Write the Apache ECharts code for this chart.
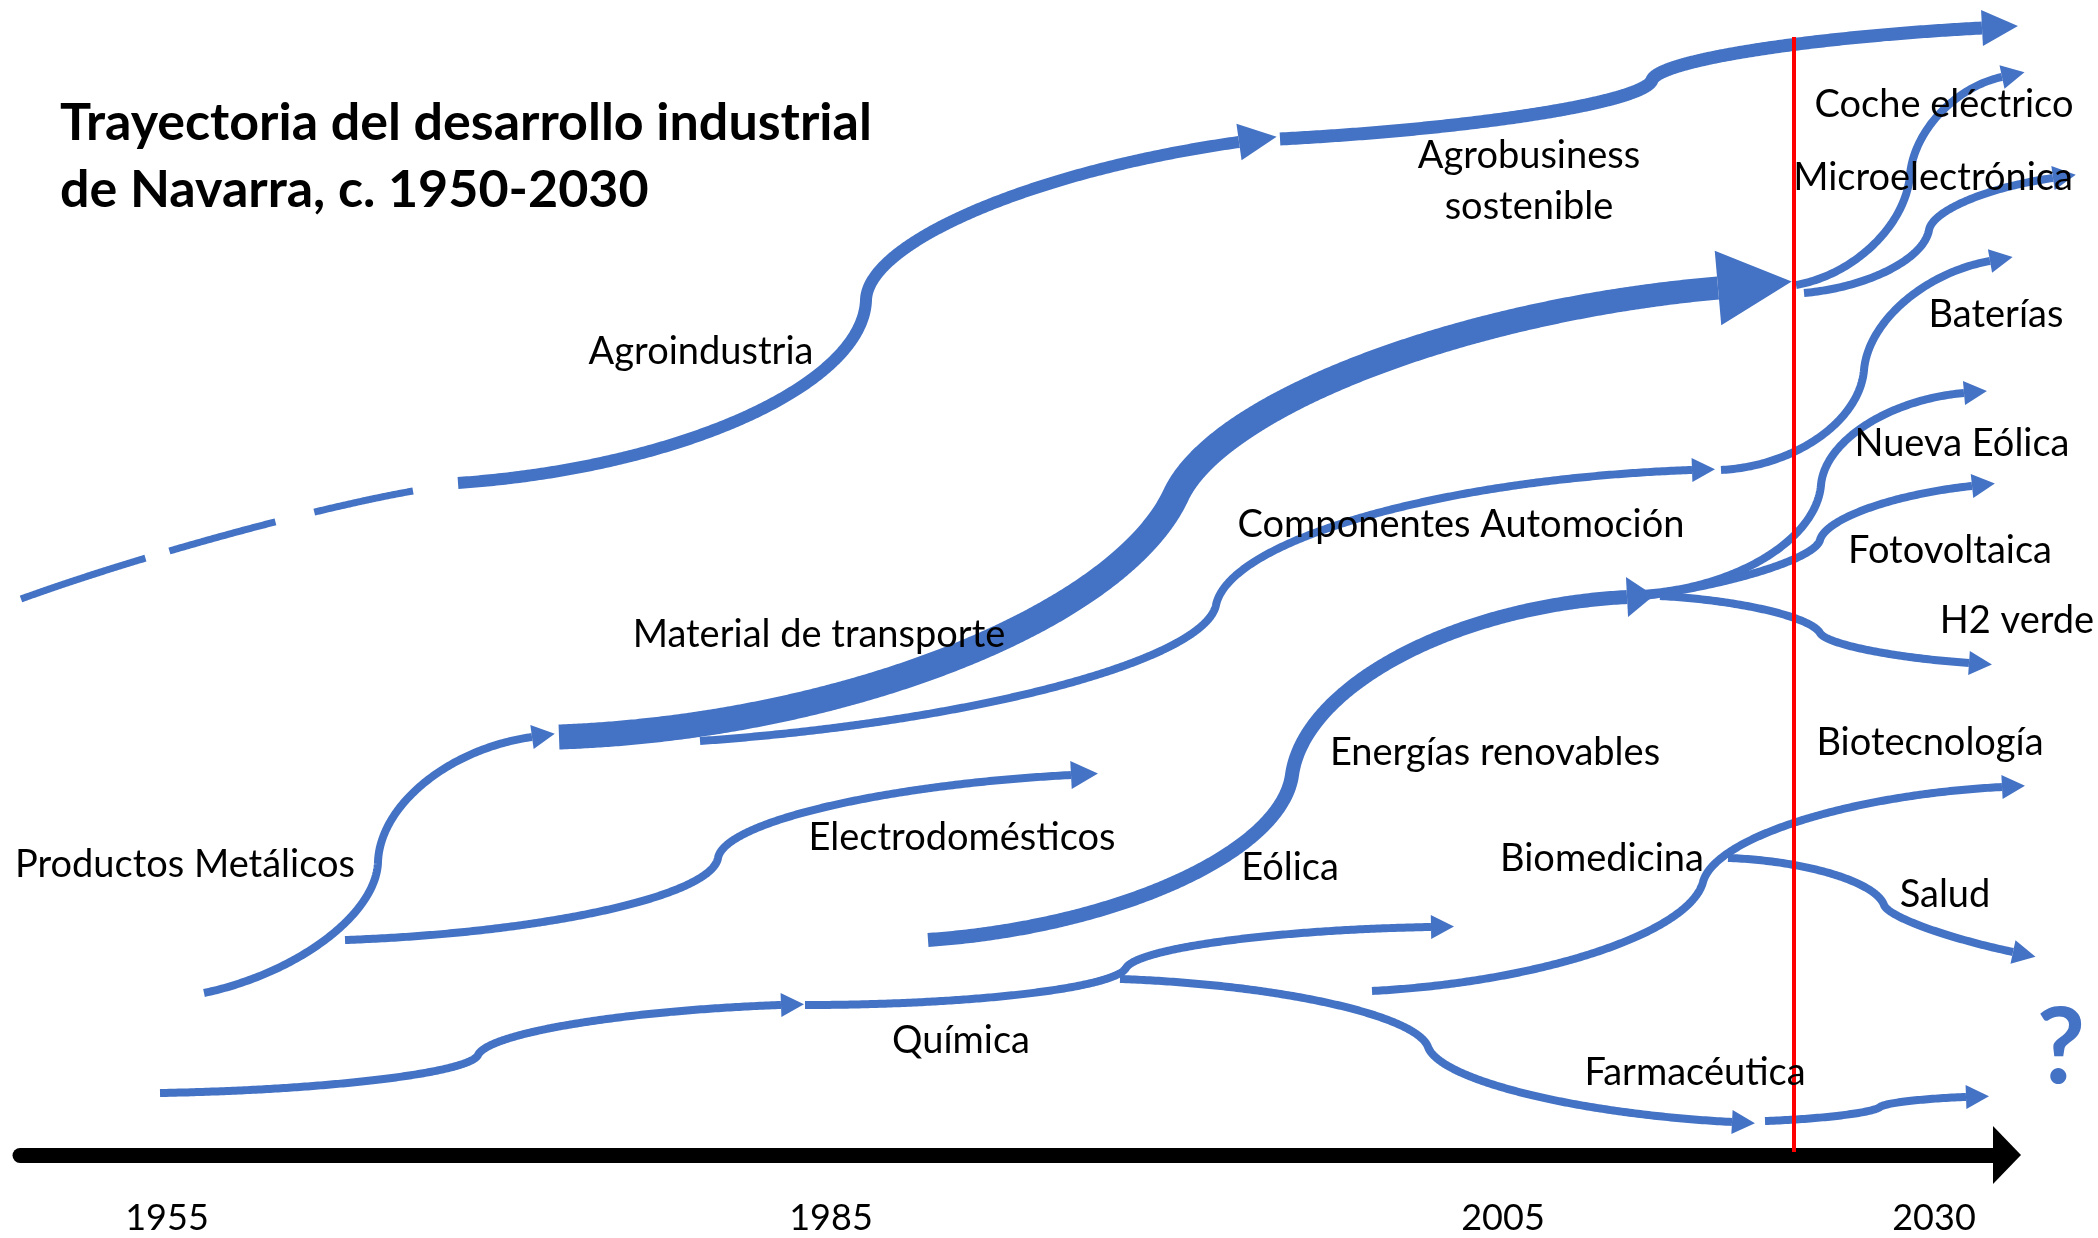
<!DOCTYPE html>
<html><head><meta charset="utf-8">
<script src="https://cdn.jsdelivr.net/npm/echarts@6/dist/echarts.min.js"></script>
<style>html,body{margin:0;padding:0;background:#fff}#c{width:2098px;height:1238px}</style>
</head><body><div id="c"></div>
<script>
// ---------- tick labels of the timeline ----------
const yearLabels = ['1955', '1985', '2005', '2030'];
const yearPositions = [167, 831, 1503, 1934];

// ---------- trajectories: nodes [x, y, tangent angle in degrees (up = positive)] ----------
const agroPrevio = [[21,599,20],[413,491,10]];
const agroindustria = [[458,483,4],[866,300,88],[1239,142,8]];
const agrobusiness = [[1280,139,3],[1652,80,70],[1982,28,3]];
const productosMat = [[204,993,12],[378,862,88],[532,737,8]];
const productosElec = [[345,940,2],[718,858,80],[1071,775,3]];
const componentes = [[700,741,4],[1216,605,78],[1692,470,2]];
const materialTransporte = [[559,737,2],[1176,495,65],[1718,288,5]];
const quimica1 = [[160,1093,1],[478,1055,65],[781,1005,2]];
const quimicaEolica = [[805,1005,0],[1126,968,60],[1431,927,1]];
const farmaceutica = [[1120,979,-2],[1428,1047,-70],[1732,1122,-3]];
const farmaceutica2 = [[1765,1121,2],[1880,1107,40],[1966,1097,2]];
const energias = [[928,940,4],[1292,775,82],[1627,597,3]];
const nuevaEolica = [[1640,594,3],[1821,485,85],[1964,393,5]];
const fotovoltaica = [[1645,596,8],[1820,540,75],[1972,486,6]];
const h2Verde = [[1660,596,-3],[1820,633,-60],[1969,663,-4]];
const baterias = [[1721,470,3],[1864,370,85],[1990,261,10]];
const cocheElectrico = [[1796,285,10],[1910,175,85],[2002,77,12]];
const microelectronica = [[1804,293,5],[1929,230,80],[2053,178,8]];
const biomedicina = [[1372,991,3],[1703,882,75],[2002,787,3]];
const salud = [[1728,858,-2],[1884,905,-70],[2013,952,-12]];

// present-day marker
const nowLine = [[1794,37],[1794,1152]];

// ---------- labels ----------
const labelTexts = ['Agroindustria','Agrobusiness\nsostenible','Material de transporte','Componentes Automoción','Coche eléctrico','Microelectrónica','Baterías','Nueva Eólica','Fotovoltaica','H2 verde','Energías renovables','Biotecnología','Electrodomésticos','Productos Metálicos','Eólica','Biomedicina','Salud','Química','Farmacéutica'];
const labelPositions = [[701,352],[1529,181],[819,635],[1461,525],[1944,105],[1933,178],[1996,315],[1962,444],[1950,551],[2017,621],[1495,753],[1930,743],[962,838],[185,865],[1290,868],[1602,859],[1945,895],[961,1041],[1695,1073]];
const questionText = ['?'];
const questionPos = [[2061,1049]];

// ---------- styles (kept apart from data) ----------
const BLUE = '#4472C4';
const FONT = 'Lato, "Open Sans", sans-serif';
const K = 0.55;
const S = {
  dash:  {w: 7, dash: [131, 25, 110, 40, 102, 60]},
  agro:  {w: 12, head: [38, 37]},
  agrob: {w: 13, head: [36, 36]},
  mat:   {widths: [25, 26, 27, 27, 25, 23], head: [74, 75]},
  ener:  {w: 14, head: [27, 40]},
  elec:  {w: 8, head: [27, 28]},
  thin:  {w: 8, head: [23, 24]}
};
const PATHS = [
  {pts: agroPrevio, s: S.dash},
  {pts: agroindustria, s: S.agro},
  {pts: agrobusiness, s: S.agrob},
  {pts: productosMat, s: S.thin},
  {pts: productosElec, s: S.elec},
  {pts: componentes, s: S.thin},
  {pts: materialTransporte, s: S.mat},
  {pts: quimica1, s: S.thin},
  {pts: quimicaEolica, s: S.thin},
  {pts: farmaceutica, s: S.thin},
  {pts: farmaceutica2, s: S.thin},
  {pts: energias, s: S.ener},
  {pts: nuevaEolica, s: S.thin},
  {pts: fotovoltaica, s: S.thin},
  {pts: h2Verde, s: S.thin},
  {pts: baterias, s: S.thin},
  {pts: cocheElectrico, s: S.thin},
  {pts: microelectronica, s: S.thin},
  {pts: biomedicina, s: S.thin},
  {pts: salud, s: S.thin}
];

// ---------- geometry helpers ----------
const dirOf = a => [Math.cos(a * Math.PI / 180), -Math.sin(a * Math.PI / 180)];
function bezSample(nodes) {
  // nodes: [[px, py, angle]] in pixel space
  const out = [];
  for (let i = 0; i < nodes.length - 1; i++) {
    const A = nodes[i], B = nodes[i+1];
    const dA = dirOf(A[2]), dB = dirOf(B[2]);
    const dx = B[0]-A[0], dy = B[1]-A[1];
    const chord = Math.hypot(dx, dy);
    let hA = chord / 3, hB = chord / 3;
    const det = dA[0]*dB[1] - dB[0]*dA[1];
    if (Math.abs(det) > 1e-3) {
      const s = (dx*dB[1] - dB[0]*dy) / det;
      const u = (dA[0]*dy - dx*dA[1]) / det;
      if (s > 0 && u > 0 && s < chord * 1.5 && u < chord * 1.5) { hA = K * s; hB = K * u; }
    }
    const c1 = [A[0] + dA[0]*hA, A[1] + dA[1]*hA];
    const c2 = [B[0] - dB[0]*hB, B[1] - dB[1]*hB];
    const n = Math.max(12, Math.ceil(chord / 2));
    for (let k = 0; k < n; k++) {
      const t = k / n, m = 1 - t;
      out.push([
        m*m*m*A[0] + 3*m*m*t*c1[0] + 3*m*t*t*c2[0] + t*t*t*B[0],
        m*m*m*A[1] + 3*m*m*t*c1[1] + 3*m*t*t*c2[1] + t*t*t*B[1]
      ]);
    }
  }
  const L = nodes[nodes.length-1];
  out.push([L[0], L[1]]);
  return out;
}
function ribbon(c, widths) {
  const L = [0];
  for (let i = 1; i < c.length; i++) L.push(L[i-1] + Math.hypot(c[i][0]-c[i-1][0], c[i][1]-c[i-1][1]));
  const tot = L[L.length-1];
  const left = [], right = [];
  for (let i = 0; i < c.length; i++) {
    const a = c[Math.max(0, i-1)], b = c[Math.min(c.length-1, i+1)];
    let tx = b[0]-a[0], ty = b[1]-a[1];
    const len = Math.hypot(tx, ty) || 1; tx /= len; ty /= len;
    const f = L[i] / tot * (widths.length - 1);
    const j = Math.min(widths.length - 2, Math.floor(f));
    const w = widths[j] + (widths[j+1] - widths[j]) * (f - j);
    left.push([c[i][0] - ty*w/2, c[i][1] + tx*w/2]);
    right.push([c[i][0] + ty*w/2, c[i][1] - tx*w/2]);
  }
  return left.concat(right.reverse());
}
function head(E, angle, len, wid) {
  const u = dirOf(angle);
  const nx = -u[1], ny = u[0];
  return [[E[0]+nx*wid/2, E[1]+ny*wid/2], [E[0]+u[0]*len, E[1]+u[1]*len], [E[0]-nx*wid/2, E[1]-ny*wid/2]];
}

// ---------- chart ----------
const chart = echarts.init(document.getElementById('c'), null, {renderer: 'canvas'});
chart.setOption({
  backgroundColor: '#ffffff',
  animation: false,
  title: {
    text: 'Trayectoria del desarrollo industrial\nde Navarra, c. 1950-2030',
    left: 60, top: 90, padding: 0,
    textStyle: {fontFamily: FONT, fontWeight: 'bold', fontSize: 52, lineHeight: 67, color: '#000'}
  },
  grid: {left: 20, right: 100, top: 0, bottom: 83, containLabel: false},
  xAxis: {
    type: 'value', min: 20, max: 1998, position: 'bottom',
    splitLine: {show: false}, axisTick: {show: false},
    axisLine: {show: true, onZero: false, lineStyle: {color: '#000', width: 15}, symbol: ['none', 'triangle'], symbolSize: [58, 28], symbolOffset: [0, 9]},
    axisLabel: {
      customValues: yearPositions, margin: 45,
      fontFamily: FONT, fontSize: 36, color: '#000',
      formatter: v => { const i = yearPositions.indexOf(v); return i >= 0 ? yearLabels[i] : ''; }
    }
  },
  yAxis: {type: 'value', min: 0, max: 1155, inverse: true, show: false},
  series: [
    {
      type: 'custom', z: 2, clip: false,
      data: PATHS.map(p => p.pts[0].slice(0, 2)),
      renderItem: function (params, api) {
        const p = PATHS[params.dataIndex];
        const nodes = p.pts.map(q => { const c = api.coord([q[0], q[1]]); return [c[0], c[1], q[2]]; });
        const c = bezSample(nodes);
        const ch = [];
        if (p.s.widths) {
          ch.push({type: 'polygon', shape: {points: ribbon(c, p.s.widths)}, style: {fill: BLUE}});
        } else {
          const st = {stroke: BLUE, lineWidth: p.s.w, fill: 'none', lineCap: 'butt', lineJoin: 'round'};
          if (p.s.dash) st.lineDash = p.s.dash;
          ch.push({type: 'polyline', shape: {points: c}, style: st});
        }
        if (p.s.head) {
          const last = nodes[nodes.length-1];
          ch.push({type: 'polygon', shape: {points: head(last, last[2], p.s.head[0], p.s.head[1])}, style: {fill: BLUE}});
        }
        return {type: 'group', children: ch};
      }
    },
    {
      type: 'custom', z: 3, clip: false,
      data: [nowLine[0]],
      renderItem: function (params, api) {
        const a = api.coord(nowLine[0]), b = api.coord(nowLine[1]);
        return {type: 'line', shape: {x1: a[0], y1: a[1], x2: b[0], y2: b[1]}, style: {stroke: '#FF0000', lineWidth: 4}};
      }
    },
    {
      type: 'custom', z: 4, clip: false,
      data: labelPositions,
      renderItem: function (params, api) {
        const pt = api.coord(labelPositions[params.dataIndex]);
        return {type: 'text', x: pt[0], y: pt[1], style: {
          text: labelTexts[params.dataIndex], fill: '#000', fontFamily: FONT, fontSize: 38,
          lineHeight: 51, align: 'center', verticalAlign: 'middle'}};
      }
    },
    {
      type: 'custom', z: 4, clip: false,
      data: questionPos,
      renderItem: function (params, api) {
        const pt = api.coord(questionPos[params.dataIndex]);
        return {type: 'text', x: pt[0], y: pt[1], style: {
          text: questionText[params.dataIndex], fill: BLUE, fontFamily: FONT, fontSize: 106,
          fontWeight: 'bold', align: 'center', verticalAlign: 'middle'}};
      }
    }
  ]
});
</script></body></html>
